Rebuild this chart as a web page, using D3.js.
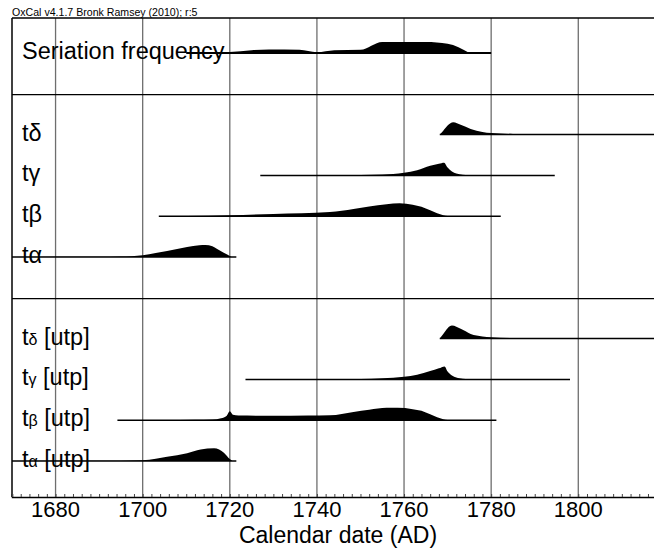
<!DOCTYPE html>
<html>
<head>
<meta charset="utf-8">
<script src="https://cdn.jsdelivr.net/npm/d3@7"></script>
<style>
  body { margin: 0; background: #fff; }
  svg { display: block; }
  text { font-family: "Liberation Sans", Arial, sans-serif; fill: #000; }
</style>
</head>
<body>
<div id="chart"></div>
<script>
var width = 654;
var height = 551;

// calendar axis
var yearMin = 1670;
var yearMax = 1820;
var majorTicks = [1680, 1700, 1720, 1740, 1760, 1780, 1800];
var minorStep = 2;

// rows (row index in the plot, label, date range, density [year, relative height])
var rowIndex = [0, 2, 3, 4, 5, 7, 8, 9, 10];
var separatorRows = [1, 6];

var labels = ["Seriation frequency", "t|δ", "t|γ", "t|β", "t|α",
              "t|δ| [utp]", "t|γ| [utp]", "t|β| [utp]", "t|α| [utp]"];

var ranges = [
  [1710, 1780],
  [1768.2, 1830],
  [1727, 1794.6],
  [1703.7, 1782.2],
  [1670, 1721.5],
  [1768.2, 1830],
  [1723.6, 1798.1],
  [1694.2, 1781.2],
  [1670, 1721.5]
];

var seriation = [[1710, 0], [1716, 0], [1720, 0.08], [1725, 0.22], [1729, 0.27], [1736, 0.25],
  [1740, 0.06], [1744, 0.22], [1750, 0.25], [1755, 0.85], [1765, 0.85], [1770, 0.72], [1775, 0]];

var tDelta = [[1768.2, 0], [1769, 0.3], [1770, 0.7], [1771.3, 0.95], [1773, 0.75], [1775.3, 0.44],
  [1778, 0.2], [1780, 0.12], [1785, 0.05], [1790, 0.03], [1800, 0.015], [1810, 0.005], [1820, 0]];

var tGamma = [[1727, 0], [1740, 0.01], [1750, 0.03], [1755, 0.06], [1760, 0.2], [1763, 0.4],
  [1766, 0.75], [1768, 0.9], [1769.2, 0.98], [1770, 0.6], [1771, 0.3], [1772, 0.15],
  [1773.5, 0.05], [1776, 0]];

var tBeta = [[1703.7, 0], [1710, 0.02], [1720, 0.07], [1730, 0.17], [1743, 0.32], [1748.4, 0.56],
  [1752, 0.75], [1756, 0.92], [1759, 1], [1762, 0.88], [1764, 0.72], [1766, 0.45],
  [1767.6, 0.23], [1769, 0.08], [1770, 0.02], [1772, 0]];

var tAlpha = [[1670, 0], [1690, 0.01], [1695, 0.03], [1700, 0.13], [1703, 0.3], [1705.6, 0.46],
  [1710.2, 0.77], [1713, 0.9], [1714.4, 0.92], [1716, 0.82], [1717.1, 0.62], [1718.5, 0.35],
  [1719.4, 0.19], [1720.4, 0]];

var tDeltaUtp = [[1768.2, 0], [1769, 0.35], [1770, 0.8], [1771, 1.0], [1773, 0.75], [1775.3, 0.36],
  [1778, 0.17], [1780, 0.1], [1785, 0.04], [1790, 0.02], [1800, 0.01], [1820, 0]];

var tGammaUtp = [[1723.6, 0], [1740, 0.01], [1750, 0.03], [1755, 0.08], [1760, 0.2], [1763, 0.35],
  [1766, 0.64], [1768, 0.85], [1769.3, 1.0], [1770, 0.6], [1771, 0.3], [1772, 0.14],
  [1773.5, 0.05], [1776, 0]];

var tBetaUtp = [[1694.2, 0], [1705, 0.01], [1712, 0.03], [1716, 0.05], [1718, 0.15], [1719.3, 0.35],
  [1720, 0.68], [1720.7, 0.42], [1722, 0.36], [1730, 0.34], [1738, 0.36], [1743, 0.38],
  [1748.4, 0.64], [1752, 0.8], [1756, 0.95], [1758.5, 0.95], [1762, 0.85], [1764, 0.72],
  [1766, 0.45], [1767.6, 0.23], [1769, 0.08], [1770, 0.02], [1772, 0]];

var tAlphaUtp = [[1670, 0], [1690, 0.01], [1695, 0.02], [1700, 0.06], [1703, 0.17], [1705.6, 0.33],
  [1710.2, 0.6], [1713.3, 0.88], [1716.4, 0.98], [1718.7, 0.62], [1720, 0.15], [1720.6, 0]];

var densities = [seriation, tDelta, tGamma, tBeta, tAlpha, tDeltaUtp, tGammaUtp, tBetaUtp, tAlphaUtp];

var header = "OxCal v4.1.7 Bronk Ramsey (2010); r:5";
var axisTitle = "Calendar date (AD)";

var plotLeft = 12, plotTop = 18, plotBottom = 497;

var x = d3.scaleLinear().domain([yearMin, yearMax]).range([plotLeft, plotLeft + 150 * 4.356]);
var y = d3.scaleLinear().domain([0, 10]).range([53, 461]);
var h = d3.scaleLinear().domain([0, 1]).range([0, 13]);

var svg = d3.select("#chart").append("svg")
  .attr("width", width)
  .attr("height", height);

// vertical grid
svg.selectAll("line.grid")
  .data(majorTicks)
  .join("line")
  .attr("class", "grid")
  .attr("x1", d => x(d)).attr("x2", d => x(d))
  .attr("y1", plotTop).attr("y2", plotBottom)
  .attr("stroke", "#6e6e6e")
  .attr("stroke-width", 1.3);

// frame
svg.append("line")
  .attr("x1", plotLeft).attr("x2", width)
  .attr("y1", plotTop).attr("y2", plotTop)
  .attr("stroke", "#000").attr("stroke-width", 1.3);
svg.append("line")
  .attr("x1", plotLeft).attr("x2", plotLeft)
  .attr("y1", plotTop).attr("y2", plotBottom)
  .attr("stroke", "#000").attr("stroke-width", 1.5);

svg.selectAll("line.sep")
  .data(separatorRows)
  .join("line")
  .attr("class", "sep")
  .attr("x1", plotLeft).attr("x2", width)
  .attr("y1", d => y(d) + 0.8).attr("y2", d => y(d) + 0.8)
  .attr("stroke", "#000")
  .attr("stroke-width", 1.3);

// axis along the bottom, ticks pointing up
var axis = d3.axisTop(x)
  .tickValues(d3.range(yearMin, yearMax + 1, minorStep))
  .tickSize(3)
  .tickFormat("");

var axisG = svg.append("g")
  .attr("transform", `translate(0,${plotBottom})`)
  .call(axis);
axisG.select(".domain").attr("stroke", "#000").attr("stroke-width", 1.5);
axisG.selectAll(".tick line").attr("stroke", "#444");

svg.selectAll("text.tick")
  .data(majorTicks)
  .join("text")
  .attr("class", "tick")
  .attr("x", d => x(d))
  .attr("y", 517)
  .attr("text-anchor", "middle")
  .style("font-size", "22px")
  .text(d => d);

svg.append("text")
  .attr("x", 338)
  .attr("y", 543)
  .attr("text-anchor", "middle")
  .style("font-size", "23px")
  .text(axisTitle);

svg.append("text")
  .attr("x", 12)
  .attr("y", 16)
  .style("font-size", "10.6px")
  .text(header);

// labels
labels.forEach((lab, i) => {
  var t = svg.append("text")
    .attr("x", 22)
    .attr("y", y(rowIndex[i]) + 6)
    .style("font-size", "23.5px");
  var parts = lab.split("|");
  parts.forEach((p, j) => {
    var small = i >= 5 && j == 1;
    t.append("tspan")
      .style("font-size", small ? "16px" : "23.5px")
      .text(p);
  });
});

// distributions
densities.forEach((dens, i) => {
  var base = y(rowIndex[i]);
  var area = d3.area()
    .curve(d3.curveMonotoneX)
    .x(d => x(d[0]))
    .y0(base)
    .y1(d => base - h(d[1]));

  svg.append("path")
    .datum(dens)
    .attr("d", area)
    .attr("fill", "#000");

  svg.append("line")
    .attr("x1", x(ranges[i][0]))
    .attr("x2", x(ranges[i][1]))
    .attr("y1", base).attr("y2", base)
    .attr("stroke", "#000")
    .attr("stroke-width", i == 0 ? 2 : 1.5);
});
</script>
</body>
</html>
